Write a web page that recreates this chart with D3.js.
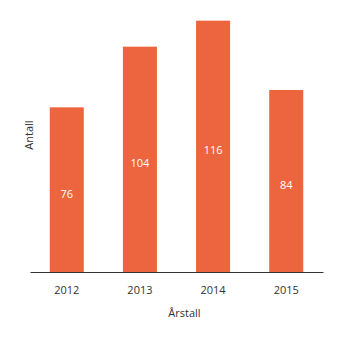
<!DOCTYPE html>
<html>
<head>
<meta charset="utf-8">
<script src="https://cdn.jsdelivr.net/npm/d3@7"></script>
<style>
  body { margin: 0; background: #fff; }
  svg { display: block; font-family: "Open Sans", sans-serif; }
</style>
</head>
<body>
<svg id="chart"></svg>
<script>
// Data
const years = ["2012", "2013", "2014", "2015"];
const counts = [76, 104, 116, 84];

// Constants
const width = 345;
const height = 341;
const margin = { left: 30, right: 22, top: 12, bottom: 69 };

const svg = d3.select('#chart')
  .attr('width', width)
  .attr('height', height);

const x = d3.scaleBand()
  .domain(years)
  .range([margin.left, width - margin.right])
  .paddingInner(0.535)
  .paddingOuter(0.27);

const y = d3.scaleLinear()
  .domain([0, 120])
  .range([height - margin.bottom, margin.top]);

// Bars
svg.selectAll('rect.bar')
  .data(years)
  .enter()
  .append('rect')
  .attr('class', 'bar')
  .attr('x', d => x(d))
  .attr('y', (d, i) => y(counts[i]))
  .attr('width', x.bandwidth())
  .attr('height', (d, i) => y(0) - y(counts[i]))
  .attr('fill', '#ec653e');

// Value labels (a bit below the bar middle)
svg.selectAll('text.value')
  .data(years)
  .enter()
  .append('text')
  .attr('class', 'value')
  .attr('x', d => x(d) + x.bandwidth() / 2)
  .attr('y', (d, i) => (y(counts[i]) + y(0)) / 2 + 4)
  .attr('dy', '0.35em')
  .attr('text-anchor', 'middle')
  .attr('font-size', '11px')
  .attr('fill', '#fff')
  .text((d, i) => counts[i]);

// X axis
const xAxis = svg.append('g')
  .attr('transform', `translate(0,${y(0)})`)
  .call(d3.axisBottom(x).tickSize(0).tickPadding(14));

xAxis.select('.domain').attr('stroke', '#333').attr('stroke-width', 1.2);
xAxis.selectAll('text')
  .attr('font-size', '11px')
  .attr('font-family', '"Open Sans", sans-serif')
  .attr('fill', '#333');

// Axis titles
svg.append('text')
  .attr('x', (margin.left + width - margin.right) / 2 + 8)
  .attr('y', 317)
  .attr('text-anchor', 'middle')
  .attr('font-size', '11px')
  .attr('fill', '#333')
  .text('Årstall');

svg.append('text')
  .attr('transform', 'translate(33,135) rotate(-90)')
  .attr('text-anchor', 'middle')
  .attr('font-size', '11px')
  .attr('fill', '#333')
  .text('Antall');
</script>
</body>
</html>
